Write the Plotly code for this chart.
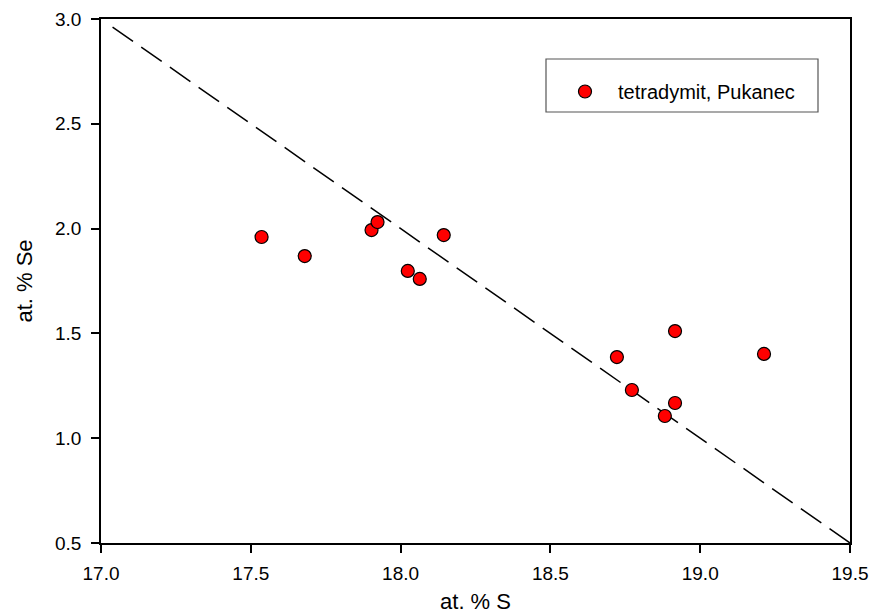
import plotly.graph_objects as go

# data
s_at = [17.536, 17.680, 17.903, 17.923, 18.144, 18.024, 18.064,
        18.722, 18.916, 19.213, 18.772, 18.916, 18.882]
se_at = [1.960, 1.869, 1.993, 2.031, 1.969, 1.798, 1.760,
         1.387, 1.511, 1.402, 1.230, 1.168, 1.106]
line_x = [19.5, 17.03]
line_y = [0.5, 2.97]
x_ticks = [17.0, 17.5, 18.0, 18.5, 19.0, 19.5]
y_ticks = [0.5, 1.0, 1.5, 2.0, 2.5, 3.0]

FONT = "Liberation Sans, Arial"

fig = go.Figure()
fig.add_trace(go.Scatter(
    x=line_x, y=line_y, mode="lines",
    line=dict(color="black", width=1.5, dash="25px,10px"),
    showlegend=False, hoverinfo="skip"))
fig.add_trace(go.Scatter(
    x=s_at, y=se_at, mode="markers", name="tetradymit, Pukanec",
    marker=dict(size=13, color="#ff0000", line=dict(color="black", width=1.2))))

axis_common = dict(
    showline=True, linecolor="black", linewidth=1.5, mirror=True,
    ticks="outside", ticklen=8, tickwidth=1.5, tickcolor="black",
    showgrid=False, zeroline=False, automargin=False,
    tickfont=dict(family=FONT, size=19, color="black"),
)
fig.update_xaxes(range=[17.0, 19.5], tickvals=x_ticks,
                 ticktext=[f"{v:.1f}" for v in x_ticks],
                 ticklabelstandoff=4,
                 title=dict(text="at. % S", standoff=12,
                            font=dict(family=FONT, size=22, color="black")),
                 **axis_common)
fig.update_yaxes(range=[0.5, 3.0], tickvals=y_ticks,
                 ticktext=[f"{v:.1f}" for v in y_ticks],
                 ticklabelstandoff=6,
                 title=dict(text="at. % Se", standoff=16,
                            font=dict(family=FONT, size=22, color="black")),
                 **axis_common)

fig.add_shape(type="rect", xref="paper", yref="paper",
              x0=(546 - 101) / 749, x1=(818 - 101) / 749,
              y0=(543 - 112) / 524, y1=(543 - 59) / 524,
              line=dict(color="#555555", width=1.2), fillcolor="rgba(0,0,0,0)")

fig.update_layout(
    width=888, height=614,
    margin=dict(l=101, r=38, t=19, b=71),
    plot_bgcolor="white", paper_bgcolor="white",
    legend=dict(x=(552 - 101) / 749, y=(543 - 72) / 524, xanchor="left", yanchor="top",
                bgcolor="rgba(0,0,0,0)", borderwidth=0, itemwidth=56,
                font=dict(family=FONT, size=20, color="black")),
    font=dict(family=FONT),
)

fig.write_html("out.html", config={"displayModeBar": False},
               post_script="document.body.style.margin='0';")
